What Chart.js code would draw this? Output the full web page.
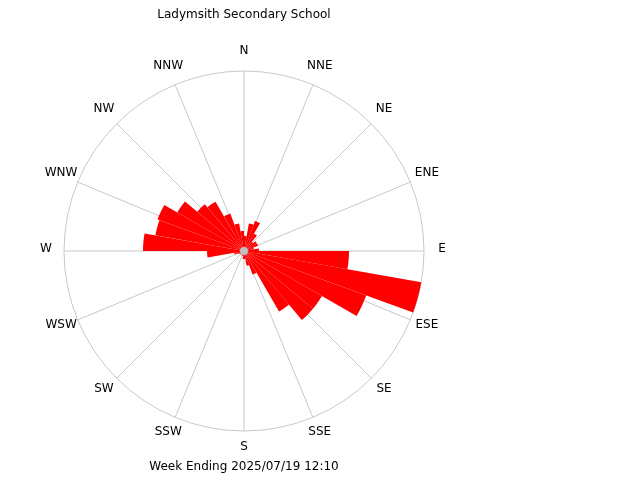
<!DOCTYPE html>
<html><head><meta charset="utf-8">
<script src="https://cdn.jsdelivr.net/npm/chart.js@4"></script>
<style>html,body{margin:0;padding:0;background:#fff}</style>
</head><body>
<div style="width:640px;height:480px"><canvas id="c" width="640" height="480"></canvas></div>
<script>
const directions = [0,10,20,30,40,50,60,70,80,90,100,110,120,130,140,150,160,170,180,190,200,210,220,230,240,250,260,270,280,290,300,310,320,330,340,350];
const values = [15,28,32,20,12,15,15,10,15,105,180,130,90,90,70,25,15,8,8,5,5,4,4,5,6,10,37,101,90,92,77,61,57,40,28,20];
const compassLabels = ['N','NNE','NE','ENE','E','ESE','SE','SSE','S','SSW','SW','WSW','W','WNW','NW','NNW'];
const scaleMax = 180;
const titleText = 'Ladymsith Secondary School';
const footerText = 'Week Ending 2025/07/19 12:10';

const decor = {
  id:'decor',
  beforeDatasetsDraw(chart){
    const ctx = chart.ctx, s = chart.scales.r;
    const cx = s.xCenter, cy = s.yCenter, R = s.drawingArea;
    ctx.save();
    ctx.strokeStyle = '#c8c8c8'; ctx.lineWidth = 1;
    compassLabels.forEach((l,i)=>{
      const a = (i*22.5 - 90)*Math.PI/180;
      ctx.beginPath(); ctx.moveTo(cx,cy); ctx.lineTo(cx+R*Math.cos(a), cy+R*Math.sin(a)); ctx.stroke();
    });
    ctx.restore();
  },
  afterDatasetsDraw(chart){
    const ctx = chart.ctx, s = chart.scales.r;
    const cx = s.xCenter, cy = s.yCenter, R = s.drawingArea;
    ctx.save();
    ctx.fillStyle = '#c0c0c0';
    ctx.beginPath(); ctx.arc(cx,cy,4,0,Math.PI*2); ctx.fill();
    ctx.fillStyle = '#000'; ctx.font = '12px "DejaVu Sans"';
    ctx.textBaseline='middle'; ctx.textAlign='center';
    compassLabels.forEach((l,i)=>{
      const a = (i*22.5 - 90)*Math.PI/180;
      const r = R + 18;
      ctx.fillText(l, cx + r*Math.cos(a), cy + r*Math.sin(a) - 2);
    });
    ctx.fillText(titleText, cx, 15);
    ctx.fillText(footerText, cx, 467);
    ctx.restore();
  }
};

new Chart(document.getElementById('c'), {
  type:'polarArea',
  data:{labels:directions.map(String), datasets:[{data:values, backgroundColor:'#ff0000', borderWidth:0}]},
  options:{
    responsive:false, animation:false,
    startAngle:-5,
    layout:{padding:{left:64,right:216,top:71,bottom:49}},
    plugins:{legend:{display:false},tooltip:{enabled:false}},
    scales:{r:{min:0,max:scaleMax,ticks:{display:false,stepSize:scaleMax},
      grid:{color:'#c8c8c8',lineWidth:1},angleLines:{display:false},pointLabels:{display:false}}}
  },
  plugins:[decor]
});
</script>
</body></html>
